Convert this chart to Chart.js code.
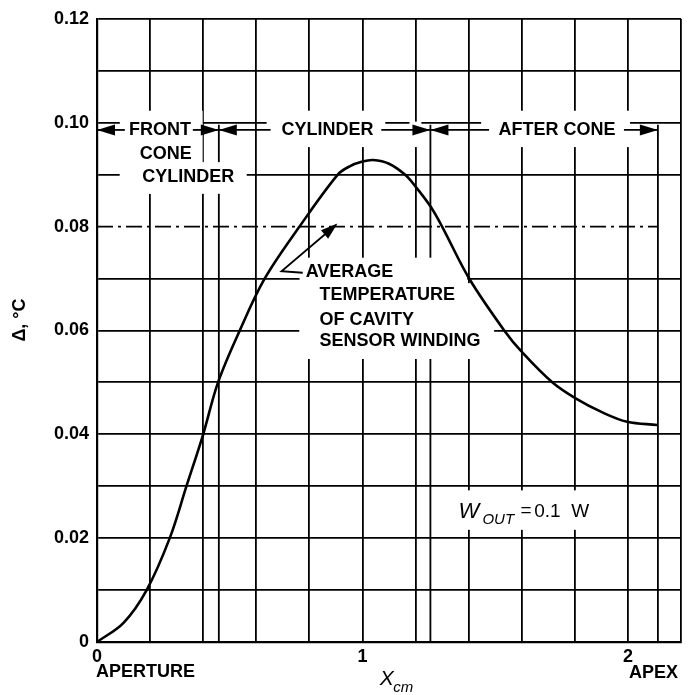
<!DOCTYPE html>
<html>
<head>
<meta charset="utf-8">
<script src="https://cdn.jsdelivr.net/npm/chart.js@4.4.1/dist/chart.umd.min.js"></script>
<style>
  html, body { margin: 0; padding: 0; background: #fff; }
  #wrap { width: 694px; height: 695px; }
</style>
</head>
<body>
<div id="wrap"><canvas id="chart" width="694" height="695"></canvas></div>
<script>
// curve: position along cavity (cm) vs temperature rise
const xCm = [0, 0.1, 0.187, 0.274, 0.337, 0.4, 0.456, 0.538, 0.632, 0.763, 0.907, 0.952, 1.0, 1.04, 1.1, 1.16, 1.2, 1.256, 1.3, 1.402, 1.534, 1.603, 1.715, 1.803, 1.9, 1.997, 2.11];
const deltaC = [0, 0.0037, 0.01, 0.02, 0.03, 0.04, 0.05, 0.06, 0.07, 0.08, 0.09, 0.0916, 0.0925, 0.0928, 0.0921, 0.09, 0.0877, 0.0839, 0.08, 0.07, 0.06, 0.0557, 0.05, 0.0469, 0.0443, 0.0424, 0.0418];

// average winding temperature (dash-dot line) and where it stops
const avgTemp = 0.08;
const avgEnd = 2.113;

// section boundaries: front cone | cylinder | after cone | apex
const sectionBounds = [0.459, 1.256, 2.113];
const sectionNames = ['FRONT', 'CYLINDER', 'AFTER CONE'];

const xLabels = { 0: '0', 1: '1', 2: '2' };
const yLabels = [0, 0.02, 0.04, 0.06, 0.08, 0.10, 0.12];

const FONT = "'Liberation Sans', Arial, sans-serif";
const BLACK = '#000';

function arrowHead(ctx, tx, ty, fx, fy, len, half) {
    const a = Math.atan2(ty - fy, tx - fx);
    ctx.beginPath();
    ctx.moveTo(tx, ty);
    ctx.lineTo(tx - len * Math.cos(a) + half * Math.sin(a), ty - len * Math.sin(a) - half * Math.cos(a));
    ctx.lineTo(tx - len * Math.cos(a) - half * Math.sin(a), ty - len * Math.sin(a) + half * Math.cos(a));
    ctx.closePath();
    ctx.fill();
}

const annotate = {
    id: 'annotate',
    beforeDatasetsDraw(chart) {
        const { ctx, scales } = chart;
        const X = v => scales.x.getPixelForValue(v);
        const Y = v => scales.y.getPixelForValue(v);
        ctx.save();
        // boundary lines (drawn first so the label gaps cut them)
        ctx.strokeStyle = BLACK;
        ctx.lineWidth = 1.8;
        sectionBounds.forEach(b => {
            ctx.beginPath();
            ctx.moveTo(X(b), Y(0.0996));
            ctx.lineTo(X(b), Y(0));
            ctx.stroke();
        });
        // white gaps behind the lettering
        const gaps = [
            [0.086, 0.1023, 0.398, 0.0863],
            [0.086, 0.0924, 0.564, 0.0863],
            [0.639, 0.1023, 1.086, 0.0953],
            [1.447, 0.1023, 2.008, 0.0953],
            [1.177, 0.1002, 1.222, 0.0953],
            [0.763, 0.0740, 1.395, 0.0545],
            [0.763, 0.0691, 1.496, 0.0545],
            [1.289, 0.0292, 1.966, 0.0216]
        ];
        ctx.fillStyle = '#fff';
        gaps.forEach(([x0, y0, x1, y1]) => {
            ctx.fillRect(X(x0), Y(y0), X(x1) - X(x0), Y(y1) - Y(y0));
        });
        ctx.restore();
    },
    afterDatasetsDraw(chart) {
        const { ctx, scales } = chart;
        const X = v => scales.x.getPixelForValue(v);
        const Y = v => scales.y.getPixelForValue(v);
        ctx.save();
        ctx.fillStyle = BLACK;
        ctx.strokeStyle = BLACK;
        ctx.lineWidth = 1.8;

        // dimension arrows along the top
        const arrowV = 0.0986;
        const dims = [[0.105, 0], [0.361, 0.459], [0.654, 0.459], [1.071, 1.256], [1.477, 1.256], [1.985, 2.113]];
        dims.forEach(([from, to]) => {
            ctx.beginPath();
            ctx.moveTo(X(from), Y(arrowV));
            ctx.lineTo(X(to), Y(arrowV));
            ctx.stroke();
            arrowHead(ctx, X(to), Y(arrowV), X(from), Y(arrowV), 18, 5.5);
        });

        ctx.font = `bold 18px ${FONT}`;
        ctx.textAlign = 'center';
        ctx.textBaseline = 'middle';
        ctx.fillText(sectionNames[0], X(0.237), Y(arrowV));
        ctx.fillText('CONE', X(0.259), Y(0.0939));
        ctx.fillText('CYLINDER', X(0.344), Y(0.0896));
        ctx.fillText(sectionNames[1], X(0.868), Y(arrowV));
        ctx.fillText(sectionNames[2], X(1.733), Y(arrowV));

        // leader to the average line
        ctx.beginPath();
        ctx.moveTo(X(0.775), Y(0.0711));
        ctx.lineTo(X(0.695), Y(0.0714));
        ctx.lineTo(X(0.9), Y(0.0803));
        ctx.stroke();
        arrowHead(ctx, X(0.906), Y(0.0806), X(0.695), Y(0.0714), 17, 5.5);

        ctx.textAlign = 'left';
        ctx.fillText('AVERAGE', X(0.786), Y(0.0712));
        ctx.fillText('TEMPERATURE', X(0.838), Y(0.0668));
        ctx.fillText('OF CAVITY', X(0.838), Y(0.0620));
        ctx.fillText('SENSOR WINDING', X(0.838), Y(0.0579));

        // W_OUT = 0.1 W
        ctx.font = `italic 22px ${FONT}`;
        ctx.fillText('W', X(1.362), Y(0.0251));
        ctx.font = `italic 15px ${FONT}`;
        ctx.fillText('OUT', X(1.452), Y(0.0236));
        ctx.font = `19px ${FONT}`;
        ctx.fillText('=', X(1.595), Y(0.0253));
        ctx.fillText('0.1  W', X(1.647), Y(0.0251));

        // axis end notes and titles
        ctx.font = `bold 18px ${FONT}`;
        ctx.fillText('APERTURE', X(0) - 1, 672);
        ctx.fillText('APEX', X(2.004), 673);

        ctx.font = `italic 21px ${FONT}`;
        ctx.fillText('X', X(1.065), 679);
        ctx.font = `italic 15px ${FONT}`;
        ctx.fillText('cm', X(1.116), 688);

        ctx.translate(20, 320);
        ctx.rotate(-Math.PI / 2);
        ctx.textAlign = 'center';
        ctx.font = `bold 18px ${FONT}`;
        ctx.fillText('\u0394, \u00B0C', 0, 0);
        ctx.restore();
    }
};

new Chart(document.getElementById('chart'), {
    type: 'scatter',
    data: {
        datasets: [
            {
                data: xCm.map((v, i) => ({ x: v, y: deltaC[i] })),
                showLine: true,
                borderColor: BLACK,
                borderWidth: 2.6,
                pointRadius: 0,
                tension: 0.35
            },
            {
                data: [{ x: 0, y: avgTemp }, { x: avgEnd, y: avgTemp }],
                showLine: true,
                borderColor: BLACK,
                borderWidth: 1.8,
                borderDash: [16, 5, 3, 5],
                pointRadius: 0
            }
        ]
    },
    options: {
        responsive: false,
        animation: false,
        layout: { padding: { top: 10, right: 13, left: 0, bottom: 0 } },
        plugins: { legend: { display: false }, tooltip: { enabled: false } },
        scales: {
            x: {
                type: 'linear',
                min: 0,
                max: 2.2,
                afterFit: s => { s.height = 53; },
                ticks: {
                    stepSize: 0.2,
                    autoSkip: false,
                    maxRotation: 0,
                    padding: 4,
                    color: BLACK,
                    font: { family: FONT, size: 18, weight: 'bold' },
                    callback: v => {
                        const r = Math.round(v);
                        return Math.abs(v - r) < 1e-6 && xLabels[r] !== undefined ? xLabels[r] : '';
                    }
                },
                grid: { color: BLACK, lineWidth: 1.8, drawTicks: false },
                border: { color: BLACK, width: 2.2 }
            },
            y: {
                min: 0,
                max: 0.12,
                afterFit: s => { s.width = 97; },
                ticks: {
                    stepSize: 0.01,
                    padding: 8,
                    color: BLACK,
                    font: { family: FONT, size: 18, weight: 'bold' },
                    callback: v => {
                        const hit = yLabels.find(l => Math.abs(l - v) < 1e-6);
                        if (hit === undefined) return '';
                        return hit === 0 ? '0' : hit.toFixed(2);
                    }
                },
                grid: {
                    lineWidth: 1.8,
                    drawTicks: false,
                    color: c => Math.abs(c.tick.value - avgTemp) < 1e-6 ? 'rgba(0,0,0,0)' : BLACK
                },
                border: { color: BLACK, width: 2.2 }
            }
        }
    },
    plugins: [annotate]
});
</script>
</body>
</html>
